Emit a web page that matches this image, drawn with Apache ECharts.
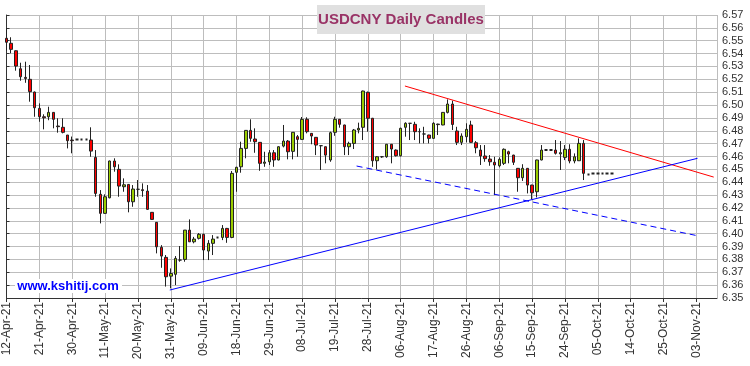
<!DOCTYPE html>
<html>
<head>
<meta charset="utf-8">
<script src="https://cdn.jsdelivr.net/npm/echarts@6/dist/echarts.min.js"></script>
<style>
html,body{margin:0;padding:0;background:#fff;}
#chart{width:750px;height:366px;}
</style>
</head>
<body>
<div id="chart"></div>
<script>
// Tick labels (every 7th trading day, starting at trading-day index 0 = 12-Apr-21)
var tickLabels = ['12-Apr-21','21-Apr-21','30-Apr-21','11-May-21','20-May-21','31-May-21','09-Jun-21','18-Jun-21','29-Jun-21','08-Jul-21','19-Jul-21','28-Jul-21','06-Aug-21','17-Aug-21','26-Aug-21','06-Sep-21','15-Sep-21','24-Sep-21','05-Oct-21','14-Oct-21','25-Oct-21','03-Nov-21'];

// Daily candles, one per trading day from 12-Apr-21
var opens = [6.5519,6.5480,6.5422,6.5282,6.5215,6.5200,6.5101,6.4974,6.4909,6.4909,
6.4943,6.4837,6.4827,6.4767,6.4728,6.4733,6.4733,6.4733,6.4728,6.4593,
6.4306,6.4158,6.4279,6.4565,6.4500,6.4365,6.4383,6.4248,6.4345,6.4342,
6.4331,6.4166,6.4088,6.3894,6.3816,6.3670,6.3684,6.3795,6.3800,6.4028,
6.3937,6.3964,6.3995,6.3865,6.3925,6.3971,6.3971,6.4041,6.3971,6.4477,
6.4520,6.4663,6.4803,6.4736,6.4710,6.4547,6.4559,6.4629,6.4573,6.4681,
6.4720,6.4640,6.4754,6.4733,6.4889,6.4780,6.4749,6.4684,6.4676,6.4573,
6.4788,6.4889,6.4845,6.4676,6.4702,6.4806,6.4827,6.5099,6.4897,6.4567,
6.4598,6.4598,6.4695,6.4650,6.4606,6.4827,6.4858,6.4850,6.4793,6.4775,
6.4767,6.4741,6.4852,6.4845,6.4943,6.5008,6.4798,6.4710,6.4754,6.4845,
6.4707,6.4650,6.4604,6.4580,6.4555,6.4528,6.4547,6.4637,6.4611,6.4508,
6.4435,6.4508,6.4378,6.4326,6.4573,6.4650,6.4650,6.4650,6.4620,6.4593,
6.4656,6.4565,6.4567,6.4702,6.4460,6.4468,6.4468,6.4468,6.4468,6.4468];
var closes = [6.5488,6.5433,6.5303,6.5220,6.5207,6.5104,6.4979,6.4909,6.4901,6.4943,
6.4889,6.4832,6.4788,6.4723,6.4723,6.4733,6.4733,6.4733,6.4642,6.4313,
6.4158,6.4287,6.4565,6.4520,6.4370,6.4380,6.4248,6.4347,6.4345,6.4335,
6.4189,6.4111,6.3898,6.3826,6.3665,6.3691,6.3808,6.3795,6.4028,6.3937,
6.3958,6.3995,6.3873,6.3925,6.3958,6.3971,6.4041,6.3971,6.4469,6.4516,
6.4663,6.4803,6.4741,6.4715,6.4547,6.4557,6.4629,6.4573,6.4676,6.4720,
6.4637,6.4788,6.4733,6.4889,6.4793,6.4759,6.4689,6.4684,6.4611,6.4785,
6.4889,6.4850,6.4676,6.4702,6.4806,6.4819,6.5109,6.4897,6.4567,6.4598,
6.4598,6.4695,6.4658,6.4606,6.4819,6.4858,6.4858,6.4793,6.4793,6.4775,
6.4741,6.4858,6.4848,6.4943,6.5008,6.4849,6.4710,6.4759,6.4811,6.4710,
6.4668,6.4604,6.4583,6.4559,6.4534,6.4578,6.4656,6.4619,6.4555,6.4435,
6.4508,6.4378,6.4318,6.4573,6.4650,6.4650,6.4650,6.4625,6.4630,6.4656,
6.4565,6.4598,6.4702,6.4469,6.4460,6.4468,6.4468,6.4468,6.4468,6.4468];
var highs = [6.5597,6.5527,6.5425,6.5329,6.5337,6.5311,6.5105,6.5013,6.4928,6.4987,
6.4945,6.4897,6.4897,6.4767,6.4755,6.4733,6.4733,6.4733,6.4827,6.4650,
6.4339,6.4306,6.4568,6.4586,6.4539,6.4430,6.4385,6.4378,6.4417,6.4391,
6.4378,6.4168,6.4090,6.3911,6.3834,6.3730,6.3826,6.3904,6.4028,6.4111,
6.3975,6.4005,6.4000,6.3950,6.3989,6.3971,6.4067,6.4045,6.4487,6.4520,
6.4715,6.4805,6.4889,6.4819,6.4712,6.4637,6.4650,6.4650,6.4680,6.4845,
6.4728,6.4790,6.4767,6.4907,6.4905,6.4782,6.4751,6.4689,6.4678,6.4793,
6.4909,6.4891,6.4847,6.4715,6.4814,6.4863,6.5112,6.5105,6.4900,6.4604,
6.4604,6.4697,6.4697,6.4655,6.4824,6.4866,6.4860,6.4870,6.4819,6.4831,
6.4769,6.4866,6.4855,6.4945,6.5044,6.5034,6.4831,6.4780,6.4858,6.4878,
6.4720,6.4689,6.4689,6.4611,6.4598,6.4593,6.4663,6.4645,6.4613,6.4510,
6.4540,6.4510,6.4380,6.4575,6.4689,6.4650,6.4650,6.4728,6.4720,6.4689,
6.4695,6.4624,6.4741,6.4728,6.4460,6.4468,6.4468,6.4468,6.4468,6.4468];
var lows = [6.5423,6.5402,6.5267,6.5189,6.5173,6.5026,6.4909,6.4870,6.4811,6.4882,
6.4819,6.4785,6.4780,6.4663,6.4625,6.4733,6.4733,6.4733,6.4598,6.4287,
6.4080,6.4155,6.4275,6.4482,6.4287,6.4326,6.4166,6.4209,6.4287,6.4287,
6.4184,6.4108,6.3847,6.3735,6.3589,6.3575,6.3600,6.3782,6.3782,6.3935,
6.3925,6.3955,6.3795,6.3795,6.3834,6.3971,6.3950,6.3929,6.3965,6.4326,
6.4474,6.4586,6.4715,6.4629,6.4489,6.4520,6.4534,6.4520,6.4570,6.4671,
6.4578,6.4578,6.4598,6.4728,6.4780,6.4695,6.4611,6.4495,6.4547,6.4559,
6.4761,6.4824,6.4611,6.4611,6.4658,6.4780,6.4728,6.4793,6.4520,6.4500,
6.4590,6.4590,6.4547,6.4600,6.4600,6.4754,6.4728,6.4728,6.4702,6.4702,
6.4702,6.4739,6.4767,6.4843,6.4935,6.4806,6.4689,6.4689,6.4710,6.4708,
6.4625,6.4534,6.4559,6.4528,6.4300,6.4516,6.4534,6.4547,6.4534,6.4326,
6.4410,6.4313,6.4267,6.4282,6.4570,6.4650,6.4650,6.4615,6.4495,6.4572,
6.4547,6.4547,6.4565,6.4417,6.4460,6.4468,6.4468,6.4468,6.4468,6.4468];

// Trend lines: [trading-day index, price]
var redTrend = [[84.9, 6.5148], [150.7, 6.4440]];
var blueSupport = [[34.8, 6.3562], [147.25, 6.4586]];
var blueDashed = [[74.6, 6.4526], [147.25, 6.3984]];

var candleData = opens.map(function (o, i) {
  var item = {value: [i, o, closes[i], lows[i], highs[i]]};
  if (o === closes[i] && o === highs[i] && o === lows[i]) {
    item.itemStyle = {borderWidth: 2};
  }
  return item;
});

var chart = echarts.init(document.getElementById('chart'), null, {renderer: 'canvas'});
var FONT = '"Liberation Sans", Arial, sans-serif';
chart.setOption({
  animation: false,
  backgroundColor: '#ffffff',
  grid: {left: 6.5, right: 33, top: 15, bottom: 68},
  xAxis: {
    type: 'value',
    min: 0,
    max: 151.4,
    interval: 7,
    axisLine: {show: true, onZero: false, lineStyle: {color: '#333333', width: 1}},
    axisTick: {show: true, length: 4, lineStyle: {color: '#333333'}},
    splitLine: {show: true, lineStyle: {color: '#bdbdbd', width: 1}},
    axisLabel: {
      rotate: 90,
      margin: 4,
      fontSize: 12,
      color: '#333333',
      fontFamily: FONT,
      showMaxLabel: false,
      formatter: function (v) {
        var k = Math.round(v / 7);
        if (Math.abs(v - k * 7) > 1e-6) return '';
        return tickLabels[k] || '';
      }
    }
  },
  yAxis: {
    type: 'value',
    position: 'right',
    min: 6.35,
    max: 6.57,
    interval: 0.01,
    axisLine: {show: true, lineStyle: {color: '#333333', width: 1}},
    axisTick: {show: true, length: 3, lineStyle: {color: '#333333'}},
    splitLine: {show: true, lineStyle: {color: '#bdbdbd', width: 1}},
    axisLabel: {
      margin: 5,
      fontSize: 11,
      color: '#333333',
      fontFamily: FONT,
      formatter: function (v) { return v.toFixed(2); }
    }
  },
  series: [
    {
      type: 'candlestick',
      data: candleData,
      barWidth: 3,
      itemStyle: {
        color: '#99cc00',
        color0: '#ff0000',
        borderColor: '#222222',
        borderColor0: '#222222',
        borderWidth: 1
      }
    },
    {
      type: 'line', data: redTrend, symbol: 'none', silent: true,
      lineStyle: {color: '#ff0000', width: 1}
    },
    {
      type: 'line', data: blueSupport, symbol: 'none', silent: true,
      lineStyle: {color: '#0000ff', width: 1}
    },
    {
      type: 'line', data: blueDashed, symbol: 'none', silent: true,
      lineStyle: {color: '#0000ff', width: 1, type: [6, 4]}
    }
  ],
  graphic: [
    {type: 'rect', left: 317, top: 5, z: 100, shape: {width: 168, height: 29}, style: {fill: '#e0e0e0'}},
    {type: 'text', x: 401, y: 20, z: 101, style: {text: 'USDCNY Daily Candles', fill: '#993366', font: 'bold 15px "Liberation Sans", Arial, sans-serif', textAlign: 'center', textVerticalAlign: 'middle'}},
    {type: 'rect', left: 15, top: 279, z: 100, shape: {width: 107, height: 14}, style: {fill: '#ffffff'}},
    {type: 'text', x: 68, y: 286, z: 101, style: {text: 'www.kshitij.com', fill: '#0000ff', font: 'bold 13px "Liberation Sans", Arial, sans-serif', textAlign: 'center', textVerticalAlign: 'middle'}}
  ]
});
</script>
</body>
</html>
